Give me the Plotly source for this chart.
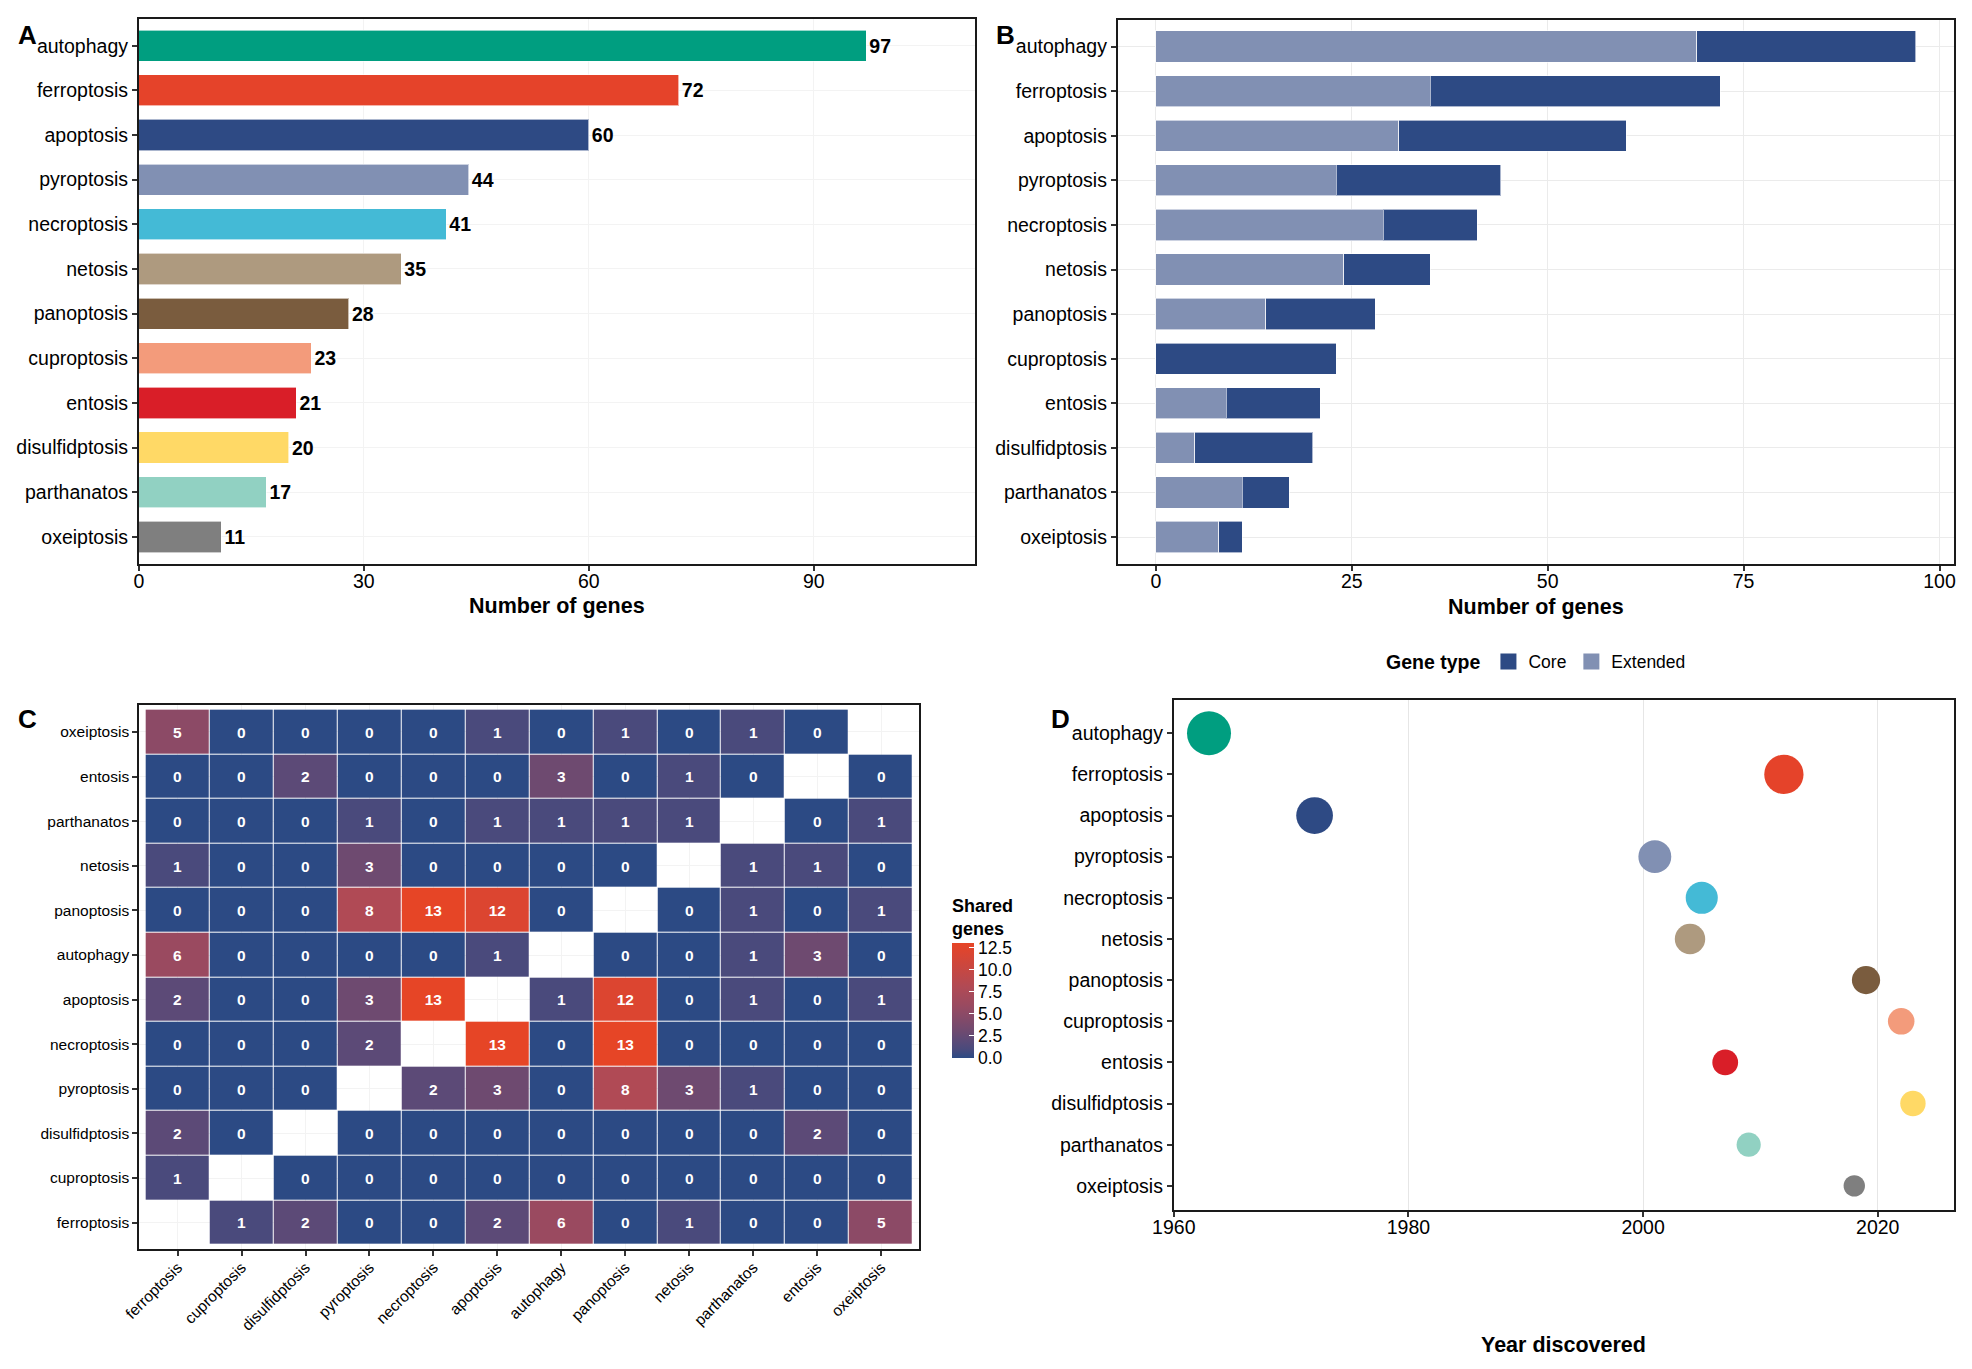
import numpy as np
import plotly.graph_objects as go

# ---------------- data ----------------
pathways = ["autophagy", "ferroptosis", "apoptosis", "pyroptosis", "necroptosis", "netosis",
            "panoptosis", "cuproptosis", "entosis", "disulfidptosis", "parthanatos", "oxeiptosis"]
n_genes = [97, 72, 60, 44, 41, 35, 28, 23, 21, 20, 17, 11]
extended_genes = [69, 35, 31, 23, 29, 24, 14, 0, 9, 5, 11, 8]
core_genes = [28, 37, 29, 21, 12, 11, 14, 23, 12, 15, 6, 3]
year_discovered = [1963, 2012, 1972, 2001, 2005, 2004, 2019, 2022, 2007, 2023, 2009, 2018]
pathway_colors = ["#009E80", "#E5432A", "#2E4A84", "#8190B3", "#44BAD6", "#AE9A7F",
                  "#7A5C3E", "#F39B7B", "#D91E28", "#FFD966", "#91D1C2", "#7F7F7F"]

heat_order = ["ferroptosis", "cuproptosis", "disulfidptosis", "pyroptosis", "necroptosis", "apoptosis",
              "autophagy", "panoptosis", "netosis", "parthanatos", "entosis", "oxeiptosis"]
N = None
# rows listed bottom (ferroptosis) to top (oxeiptosis); columns in heat_order
shared = [
    [N, 1, 2, 0, 0, 2, 6, 0, 1, 0, 0, 5],      # ferroptosis
    [1, N, 0, 0, 0, 0, 0, 0, 0, 0, 0, 0],      # cuproptosis
    [2, 0, N, 0, 0, 0, 0, 0, 0, 0, 2, 0],      # disulfidptosis
    [0, 0, 0, N, 2, 3, 0, 8, 3, 1, 0, 0],      # pyroptosis
    [0, 0, 0, 2, N, 13, 0, 13, 0, 0, 0, 0],    # necroptosis
    [2, 0, 0, 3, 13, N, 1, 12, 0, 1, 0, 1],    # apoptosis
    [6, 0, 0, 0, 0, 1, N, 0, 0, 1, 3, 0],      # autophagy
    [0, 0, 0, 8, 13, 12, 0, N, 0, 1, 0, 1],    # panoptosis
    [1, 0, 0, 3, 0, 0, 0, 0, N, 1, 1, 0],      # netosis
    [0, 0, 0, 1, 0, 1, 1, 1, 1, N, 0, 1],      # parthanatos
    [0, 0, 2, 0, 0, 0, 3, 0, 1, 0, N, 0],      # entosis
    [5, 0, 0, 0, 0, 1, 0, 1, 0, 1, 0, N],      # oxeiptosis
]
colorbar_ticks = [0, 2.5, 5, 7.5, 10, 12.5]
colorbar_ticktext = ["0.0", "2.5", "5.0", "7.5", "10.0", "12.5"]
year_ticks = [1960, 1980, 2000, 2020]

# ---------------- style ----------------
W, H = 1972, 1369
FONT = "Arial, Liberation Sans, sans-serif"
CORE = "#2D4A84"
EXT = "#8190B3"
heat_scale = [[0.0, "#2C4A84"], [0.077, "#4A4A7C"], [0.154, "#5C4A77"], [0.231, "#6E4A70"],
              [0.385, "#8C4A66"], [0.462, "#9A4A60"], [0.615, "#B04A55"], [0.923, "#DC4530"],
              [1.0, "#E64526"]]


def px_x(a, b):
    return [a / W, b / W]


def px_y(top, bottom):
    return [1 - bottom / H, 1 - top / H]


cat_array = pathways[::-1]

fig = go.Figure()

# Panel A
fig.add_trace(go.Bar(
    x=n_genes, y=pathways, orientation="h", width=0.7,
    marker=dict(color=pathway_colors, line=dict(color="rgba(255,255,255,0.6)", width=1)),
    text=n_genes, textposition="outside", cliponaxis=False,
    textfont=dict(family=FONT, size=19.5, color="black", weight="bold"),
    showlegend=False, xaxis="x", yaxis="y"))

# Panel B
fig.add_trace(go.Bar(
    x=extended_genes, y=pathways, orientation="h", width=0.7, name="Extended",
    marker=dict(color=EXT, line=dict(color="rgba(255,255,255,0.6)", width=1)),
    showlegend=False, xaxis="x2", yaxis="y2"))
fig.add_trace(go.Bar(
    x=core_genes, y=pathways, orientation="h", width=0.7, name="Core",
    marker=dict(color=CORE, line=dict(color="rgba(255,255,255,0.6)", width=1)),
    showlegend=False, xaxis="x2", yaxis="y2"))
# legend keys (square swatches like the reference)
fig.add_trace(go.Scatter(x=[None], y=[None], mode="markers", name="Core",
                         marker=dict(symbol="square", size=20, color=CORE),
                         legendrank=1, xaxis="x2", yaxis="y2"))
fig.add_trace(go.Scatter(x=[None], y=[None], mode="markers", name="Extended",
                         marker=dict(symbol="square", size=20, color=EXT),
                         legendrank=2, xaxis="x2", yaxis="y2"))

# Panel C
fig.add_trace(go.Heatmap(
    z=shared, x=heat_order, y=heat_order, zmin=0, zmax=13, colorscale=heat_scale,
    xgap=1, ygap=1, texttemplate="%{z}",
    textfont=dict(family=FONT, size=15.5, color="white", weight="bold"),
    colorbar=dict(
        title=dict(text="Shared<br>genes", side="top",
                   font=dict(family=FONT, size=18, color="black", weight="bold")),
        x=952 / W, xanchor="left", xpad=0, y=1 - 1058 / H, yanchor="bottom", ypad=0,
        lenmode="pixels", len=163, thickness=22, outlinewidth=0,
        tickvals=colorbar_ticks, ticktext=colorbar_ticktext, ticks="inside",
        tickcolor="white", ticklen=5, tickfont=dict(family=FONT, size=17.5, color="black")),
    showlegend=False, xaxis="x3", yaxis="y3"))

# Panel D
s = np.sqrt(np.array(n_genes, dtype=float))
dmin, dmax = 21.4, 44.0
sizes = dmin + (s - s.min()) / (s.max() - s.min()) * (dmax - dmin)
fig.add_trace(go.Scatter(
    x=year_discovered, y=pathways, mode="markers",
    marker=dict(color=pathway_colors, size=sizes, sizemode="diameter", line=dict(width=0), opacity=1),
    showlegend=False, xaxis="x4", yaxis="y4", cliponaxis=False))

tickfont = dict(family=FONT, size=19.5, color="black")
axis_common = dict(showline=True, linecolor="#1a1a1a", linewidth=2, mirror=True,
                   ticks="outside", ticklen=5, tickwidth=1.5, tickcolor="#333333",
                   zeroline=False, tickfont=tickfont, automargin=False)
xaxis_common = {**axis_common, "ticklabelstandoff": -6}
heat_axis = {**axis_common, "tickfont": dict(family=FONT, size=15.5, color="black")}
heat_xaxis = {**heat_axis, "ticklabelstandoff": -4}

fig.update_layout(
    width=W, height=H, margin=dict(l=0, r=0, t=0, b=0, autoexpand=False),
    paper_bgcolor="white", plot_bgcolor="white", barmode="stack",
    font=dict(family=FONT, color="black"),
    xaxis=dict(domain=px_x(138.9, 975.4), range=[0, 111.55], tickvals=[0, 30, 60, 90],
               showgrid=True, gridcolor="#F3F3F3", gridwidth=1, anchor="y", **xaxis_common),
    yaxis=dict(domain=px_y(18.9, 563.7), type="category", categoryorder="array",
               categoryarray=cat_array, range=[-0.6, 11.6], showgrid=True,
               gridcolor="#F3F3F3", anchor="x", **axis_common),
    xaxis2=dict(domain=px_x(1117.8, 1954), range=[-4.85, 101.85], tickvals=[0, 25, 50, 75, 100],
                showgrid=True, gridcolor="#EBEBEB", gridwidth=1, anchor="y2", **xaxis_common),
    yaxis2=dict(domain=px_y(19.8, 563.8), type="category", categoryorder="array",
                categoryarray=cat_array, range=[-0.6, 11.6], showgrid=True,
                gridcolor="#EBEBEB", anchor="x2", **axis_common),
    xaxis3=dict(domain=px_x(139.3, 919.4), type="category", categoryorder="array",
                categoryarray=heat_order, range=[-0.6, 11.6], tickangle=-45,
                showgrid=True, gridcolor="#F3F3F3", anchor="y3", **heat_xaxis),
    yaxis3=dict(domain=px_y(705.2, 1249.4), type="category", categoryorder="array",
                categoryarray=heat_order, range=[-0.6, 11.6],
                showgrid=True, gridcolor="#F3F3F3", anchor="x3", **heat_axis),
    xaxis4=dict(domain=px_x(1173.8, 1954), range=[1960, 2026.5], tickvals=year_ticks,
                showgrid=True, gridcolor="#E6E6E6", gridwidth=1, anchor="y4", **xaxis_common),
    yaxis4=dict(domain=px_y(699.5, 1209.7), type="category", categoryorder="array",
                categoryarray=cat_array, range=[-0.58, 11.82], showgrid=False,
                anchor="x4", **axis_common),
    legend=dict(orientation="h", x=1384 / W, xanchor="left", y=1 - 661.5 / H, yanchor="middle",
                title=dict(text="Gene type", side="left",
                           font=dict(family=FONT, size=19.5, color="black", weight="bold")),
                font=dict(family=FONT, size=17.5, color="black"), bgcolor="rgba(0,0,0,0)",
                traceorder="normal", itemsizing="trace"),
)

ann = []
def label(text, x, y, size, bold=True):
    ann.append(dict(text=text, x=x / W, y=1 - y / H, xref="paper", yref="paper",
                    xanchor="center", yanchor="middle", showarrow=False,
                    font=dict(family=FONT, size=size, color="black",
                              weight="bold" if bold else "normal")))

label("A", 27.8, 34.5, 26)
label("B", 1005.8, 34.8, 26)
label("C", 27, 718.8, 26)
label("D", 1060, 719, 26)
label("Number of genes", (138.9 + 975.4) / 2, 606, 21.5)
label("Number of genes", (1117.8 + 1954) / 2, 606.5, 21.5)
label("Year discovered", (1173.8 + 1954) / 2, 1345, 21.5)
fig.update_layout(annotations=ann)

fig.write_html("out.html")
